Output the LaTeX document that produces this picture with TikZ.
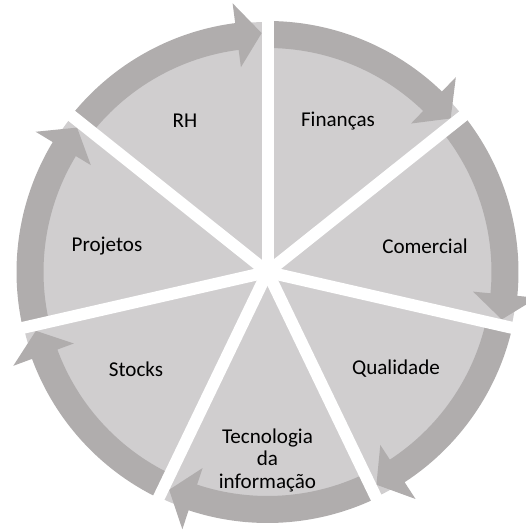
\documentclass[tikz,border=0pt]{standalone}
\usepackage{fontspec}
\setmainfont{Carlito}

\definecolor{sectorgray}{HTML}{D0CECF}
\definecolor{bandgray}{HTML}{B0ADAD}

\begin{document}
\begin{tikzpicture}[
  sector/.style={fill=sectorgray},
  band/.style={fill=bandgray},
  gap/.style={draw=white,line width=0.24cm},
  dept/.style={font=\fontsize{12}{12.8}\selectfont,align=center,text=black}]

	\useasboundingbox (-5.35,-5.18) rectangle (5.17,5.44);

    % seven equal slices, clockwise from the top
    \foreach \i in {0,...,6} {
      \pgfmathsetmacro\s{90-\i*360/7}
      \pgfmathsetmacro\e{\s-360/7}
      \fill[sector] (0,0) -- (\s:5) arc[start angle=\s, end angle=\e, radius=5] -- cycle;
    }

    % curved arrow along the rim of every slice
    \foreach \i in {0,...,6} {
      \pgfmathsetmacro\s{90-\i*360/7}
      \pgfmathsetmacro\e{\s-360/7}
      \pgfmathsetmacro\b{\e+7.4}
      \pgfmathsetmacro\t{\e+1.4}
      \fill[band] (\s:5.02) arc[start angle=\s, end angle=\b, radius=5.02]
        -- (\b:5.42) -- (\t:4.78) -- (\b:4.13) -- (\b:4.48)
        arc[start angle=\b, end angle=\s, radius=4.48] -- cycle;
    }

    % white spokes between the slices
    \foreach \i in {0,...,6}
      \draw[gap] (0,0) -- ({90-\i*360/7}:5.6);

    \node[dept] (fin)  at (1.41,3.02)  {Finanças};
    \node[dept] (com)  at (3.15,0.52)  {Comercial};
    \node[dept] (qual) at (2.57,-1.94) {Qualidade};
    \node[dept] (ti)   at (0,-3.76)    {Tecnologia\\da\\informação};
    \node[dept] (stk)  at (-2.63,-1.94) {Stocks};
    \node[dept] (proj) at (-3.21,0.52) {Projetos};
    \node[dept] (rh)   at (-1.65,3.02) {RH};

\end{tikzpicture}
\end{document}
